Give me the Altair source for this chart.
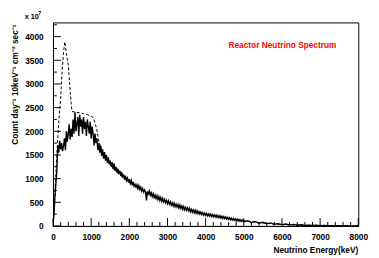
import altair as alt
import pandas as pd

# Solid histogram (measured spectrum): 25 keV bins to 5000 keV, 100 keV bins beyond
energy = list(range(0, 5001, 25)) + list(range(5100, 8001, 100))
counts = [
    0, 250, 600, 900, 1150, 1700, 1550, 1800, 1620, 1750,
    1580, 1690, 1850, 1600, 2000, 1780, 1950, 2150, 1830, 2050,
    1880, 2250, 1950, 2400, 2000, 2150, 2300, 1900, 2350, 2100,
    2250, 1950, 2300, 2050, 2200, 1900, 2250, 2100, 1950, 2200,
    1850, 2100, 1950, 1700, 1950, 1750, 1850, 1600, 1750, 1550,
    1700, 1480, 1620, 1420, 1560, 1380, 1500, 1330, 1450, 1300,
    1380, 1260, 1350, 1200, 1320, 1170, 1250, 1130, 1210, 1100,
    1170, 1060, 1140, 1020, 1090, 980, 1060, 960, 1010, 920,
    990, 900, 960, 860, 930, 840, 880, 820, 870, 790,
    850, 770, 820, 740, 790, 720, 760, 700, 540, 730,
    680, 740, 650, 700, 620, 680, 600, 650, 580, 640,
    560, 620, 540, 600, 520, 580, 510, 560, 490, 540,
    470, 530, 460, 510, 440, 490, 420, 480, 410, 460,
    400, 450, 380, 440, 370, 420, 350, 410, 340, 390,
    330, 380, 320, 370, 300, 350, 290, 340, 280, 330,
    270, 320, 260, 300, 250, 290, 240, 280, 230, 270,
    225, 265, 215, 255, 210, 250, 200, 240, 195, 235,
    190, 230, 180, 220, 175, 215, 165, 205, 160, 200,
    155, 190, 145, 180, 140, 175, 130, 165, 125, 155,
    120, 150, 110, 145, 105, 135, 100, 130, 95, 125,
    90,
    110, 70, 95, 55, 80, 45, 65, 35, 50, 28, 40, 22, 32, 15, 25,
    12, 18, 9, 14, 7, 10, 5, 7, 3, 5, 2, 4, 1, 2, 1,
]

# Dashed curve (unsmeared spectrum)
dash_energy = [0, 50, 100, 150, 200, 240, 280, 310, 350, 400, 450, 480, 500, 600, 700, 800, 900, 1000,
               1050, 1100, 1150, 1200, 1300, 1400, 1500, 1600, 1700, 1800, 1900, 2000, 2250, 2500, 2750,
               3000, 3500, 4000, 4500, 5000, 5500, 6000, 6500, 7000, 7500, 8000]
dash_counts = [0, 700, 1500, 2200, 2700, 3300, 3700, 3890, 3650, 3400, 2850, 2550, 2420, 2400, 2390, 2370, 2350, 2320,
               2290, 2180, 2030, 1780, 1540, 1400, 1290, 1190, 1110, 1040, 980, 920, 790, 680, 580,
               500, 370, 250, 170, 110, 60, 30, 15, 7, 3, 1]

y_major = [0, 500, 1000, 1500, 2000, 2500, 3000, 3500, 4000]
y_minor = [250, 750, 1250, 1750, 2250, 2750, 3250, 3750, 4250]
x_major = [0, 1000, 2000, 3000, 4000, 5000, 6000, 7000, 8000]
x_minor = [v for v in range(200, 8000, 200) if v % 1000]

W, H = 312, 208
FONT = "Liberation Sans"

xs = alt.Scale(domain=[0, 8000], nice=False, zero=False)
ys = alt.Scale(domain=[0, 4300], nice=False)

df_s = pd.DataFrame({"E": energy, "C": counts})
df_d = pd.DataFrame({"E": dash_energy, "C": dash_counts})

x_axis = alt.Axis(values=x_major, format="d", labelFont=FONT, labelFontSize=8.5, labelFontWeight="bold",
                  labelColor="black", domainColor="black", domainWidth=1, ticks=False, grid=False,
                  title=None, labelPadding=7, labelFlush=False)
y_axis = alt.Axis(values=y_major, format="d", labelFont=FONT, labelFontSize=8.5, labelFontWeight="bold",
                  labelColor="black", domainColor="black", domainWidth=1, ticks=False, grid=False,
                  title=None, labelPadding=10, labelFlush=False)

dashed = alt.Chart(df_d).mark_line(color="black", strokeWidth=1, strokeDash=[3, 2], clip=True).encode(
    x=alt.X("E:Q", scale=xs, axis=x_axis),
    y=alt.Y("C:Q", scale=ys, axis=y_axis),
)
solid = alt.Chart(df_s).mark_line(color="black", strokeWidth=1.4, clip=True).encode(
    x=alt.X("E:Q", scale=xs, axis=x_axis),
    y=alt.Y("C:Q", scale=ys, axis=y_axis),
)

def yticks(vals, length):
    return alt.Chart(pd.DataFrame({"E": [0] * len(vals), "C": vals})).mark_rule(color="black", strokeWidth=1).encode(
        y=alt.Y("C:Q", scale=ys, axis=y_axis), x=alt.value(0), x2=alt.value(length))

def xticks(vals, length):
    return alt.Chart(pd.DataFrame({"E": vals})).mark_rule(color="black", strokeWidth=1).encode(
        x=alt.X("E:Q", scale=xs, axis=x_axis), y=alt.value(H), y2=alt.value(H - length))

def label(text, x, y, size, color="black", align="left", angle=0):
    return alt.Chart(pd.DataFrame({"t": [text]})).mark_text(
        font=FONT, fontSize=size, fontWeight="bold", color=color, align=align,
        baseline="alphabetic", angle=angle).encode(
        text="t:N", x=alt.value(x), y=alt.value(y))

chart = alt.layer(
    dashed,
    solid,
    yticks(y_major, 8), yticks(y_minor, 4),
    xticks(x_major, 8), xticks(x_minor, 4),
    label("Reactor Neutrino Spectrum", 234.5, 26.5, 8.5, color="#ff0000", align="center"),
    label("Neutrino Energy(keV)", W, 236, 8.5, align="right"),
    label("x 10", -29, -3.5, 7.5),
    label("7", -15, -8, 5.5),
    label("Count day⁻¹ 10keV⁻¹ cm⁻² sec⁻¹", -36, 2, 8.5, align="right", angle=270),
).properties(
    width=W, height=H,
    autosize=alt.AutoSizeParams(type="none"),
    padding={"left": 46, "top": 12, "right": 13, "bottom": 30},
).configure_view(stroke="black", strokeWidth=1)

chart.save("out.html", embed_options={"renderer": "svg", "actions": False})
